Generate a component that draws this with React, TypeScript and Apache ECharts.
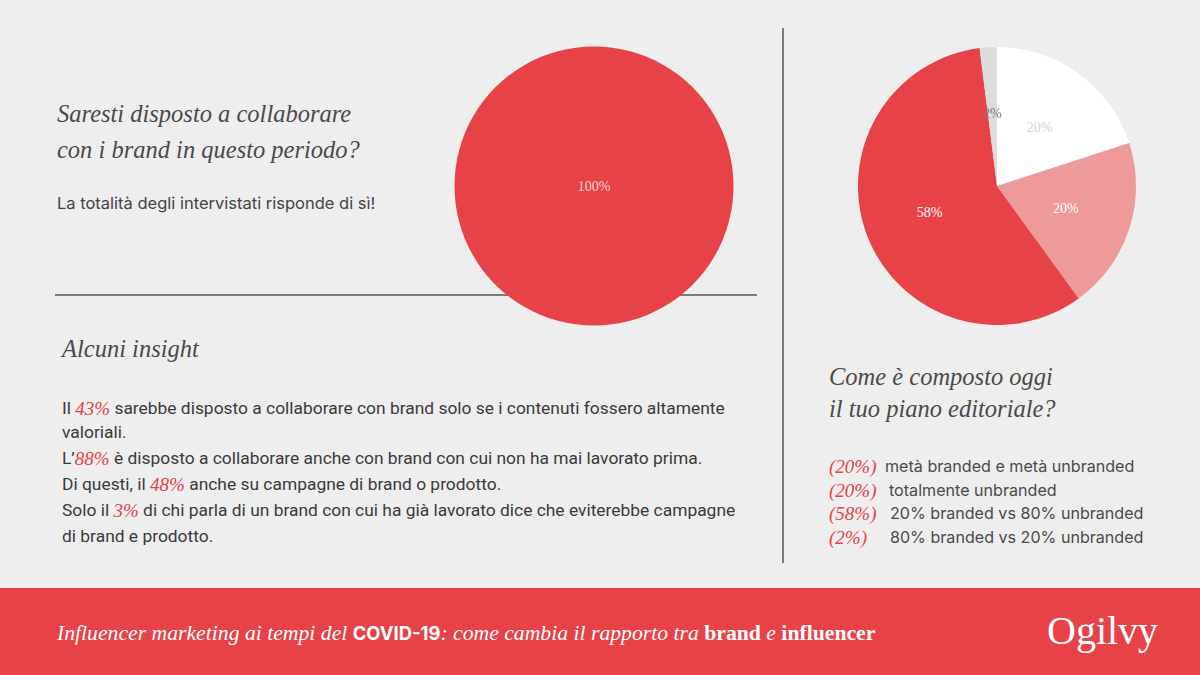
import React, { useEffect, useRef } from "react";
import * as echarts from "echarts";

const mainPieData = [{ name: "Sì", value: 100 }];
const planCategories = [
  "metà branded e metà unbranded",
  "totalmente unbranded",
  "20% branded vs 80% unbranded",
  "80% branded vs 20% unbranded",
];
const planValues = [20, 20, 58, 2];
const planColors = ["#ffffff", "#ee9a9b", "#e64248", "#dcdcdc"];
const planLabelColors = ["#d4d4d4", "#ffffff", "#ffffff", "#7a7a7a"];

const RED = "#e64248";
const BG = "#eeeeee";
const SERIF = "'Liberation Serif', 'DejaVu Serif', serif";
const SANS = "Inter, 'Noto Sans', sans-serif";
const PARA = "Roboto, 'Noto Sans', sans-serif";

const insightLines: [string, string, string][] = [
  ["Il ", "43%", " sarebbe disposto a collaborare con brand solo se i contenuti fossero altamente"],
  ["valoriali.", "", ""],
  ["L’", "88%", " è disposto a collaborare anche con brand con cui non ha mai lavorato prima."],
  ["Di questi, il ", "48%", " anche su campagne di brand o prodotto."],
  ["Solo il ", "3%", " di chi parla di un brand con cui ha già lavorato dice che eviterebbe campagne"],
  ["di brand e prodotto.", "", ""],
];

export default function App() {
  const ref = useRef<HTMLDivElement>(null);
  useEffect(() => {
    if (!ref.current) return;
    const chart = echarts.init(ref.current, null, { renderer: "svg" });

    const insightY = [408, 432, 458, 484, 510, 536];
    const insightTexts = insightLines.map((l, i) => {
      const parts: string[] = [];
      if (l[0]) parts.push(`{t|${l[0]}}`);
      if (l[1]) parts.push(`{r|${l[1]}}`);
      if (l[2]) parts.push(`{t|${l[2]}}`);
      return {
        type: "text",
        x: 62,
        y: insightY[i],
        style: {
          text: parts.join(""),
          verticalAlign: "middle",
          align: "left",
          rich: {
            t: { fontFamily: PARA, fontSize: 17.4, fill: "#3a3a3a" },
            r: { fontFamily: SERIF, fontStyle: "italic", fontSize: 19, fill: RED },
          },
        },
      };
    });

    const legendY = [466, 490, 513, 537];
    const legendTexts = planCategories.map((c, i) => [
      {
        type: "text",
        x: 829,
        y: legendY[i],
        style: {
          text: `(${planValues[i]}%)`,
          fontFamily: SERIF,
          fontStyle: "italic",
          fontSize: 19,
          fill: RED,
          verticalAlign: "middle",
        },
      },
      {
        type: "text",
        x: [885, 889, 890, 890][i],
        y: legendY[i],
        style: {
          text: c,
          fontFamily: SANS,
          fontSize: 16.1,
          fill: "#4a4a4a",
          verticalAlign: "middle",
        },
      },
    ]).flat();

    chart.setOption({
      animation: false,
      backgroundColor: BG,
      graphic: [
        { type: "line", shape: { x1: 55, y1: 295, x2: 757, y2: 295 }, style: { stroke: "#555", lineWidth: 1.5 }, z: -1 },
        { type: "line", shape: { x1: 783, y1: 28, x2: 783, y2: 563 }, style: { stroke: "#555", lineWidth: 1.5 } },
        {
          type: "text", x: 57, y: 113,
          style: { text: "Saresti disposto a collaborare", fontFamily: SERIF, fontStyle: "italic", fontSize: 24.5, fill: "#4a4a4a", verticalAlign: "middle" },
        },
        {
          type: "text", x: 57, y: 149,
          style: { text: "con i brand in questo periodo?", fontFamily: SERIF, fontStyle: "italic", fontSize: 24.5, fill: "#4a4a4a", verticalAlign: "middle" },
        },
        {
          type: "text", x: 57, y: 203,
          style: { text: "La totalità degli intervistati risponde di sì!", fontFamily: SANS, fontSize: 16.5, fill: "#444", verticalAlign: "middle" },
        },
        {
          type: "text", x: 62, y: 348,
          style: { text: "Alcuni insight", fontFamily: SERIF, fontStyle: "italic", fontSize: 24.5, fill: "#4a4a4a", verticalAlign: "middle" },
        },
        ...insightTexts,
        {
          type: "text", x: 829, y: 376,
          style: { text: "Come è composto oggi", fontFamily: SERIF, fontStyle: "italic", fontSize: 24.5, fill: "#4a4a4a", verticalAlign: "middle" },
        },
        {
          type: "text", x: 829, y: 408,
          style: { text: "il tuo piano editoriale?", fontFamily: SERIF, fontStyle: "italic", fontSize: 24.5, fill: "#4a4a4a", verticalAlign: "middle" },
        },
        ...legendTexts,
        { type: "rect", shape: { x: 0, y: 588, width: 1200, height: 87 }, style: { fill: RED } },
        {
          type: "text", x: 57, y: 633,
          style: {
            text: "{i|Influencer marketing ai tempi del }{b|COVID-19}{i|: come cambia il rapporto tra }{s|brand}{i| e }{s|influencer}",
            verticalAlign: "middle",
            rich: {
              i: { fontFamily: SERIF, fontStyle: "italic", fontSize: 21.7, fill: "#fff" },
              b: { fontFamily: SANS, fontWeight: "bold", fontSize: 18.4, fill: "#fff" },
              s: { fontFamily: SERIF, fontWeight: "bold", fontSize: 21.7, fill: "#fff" },
            },
          },
        },
        {
          type: "text", x: 1047, y: 630,
          style: { text: "Ogilvy", fontFamily: SERIF, fontSize: 40, fill: "#fff", verticalAlign: "middle" },
        },
      ],
      series: [
        {
          type: "pie",
          center: [594, 186],
          radius: 139.5,
          z: 2,
          silent: true,
          data: mainPieData,
          itemStyle: { color: RED },
          label: { position: "center", formatter: "{d}%", color: "#f6d3d3", fontFamily: SERIF, fontSize: 14 },
          labelLine: { show: false },
        },
        {
          type: "pie",
          center: [997, 186],
          radius: 139,
          startAngle: 90,
          clockwise: true,
          silent: true,
          data: planCategories.map((c, i) => ({
            name: c,
            value: planValues[i],
            itemStyle: { color: planColors[i] },
            label: { color: planLabelColors[i] },
          })),
          label: { position: "inner", formatter: "{c}%", fontFamily: SERIF, fontSize: 14 },
          labelLine: { show: false },
        },
      ],
    });
    return () => chart.dispose();
  }, []);
  return <div ref={ref} style={{ position: "fixed", left: 0, top: 0, width: 1200, height: 675 }} />;
}
